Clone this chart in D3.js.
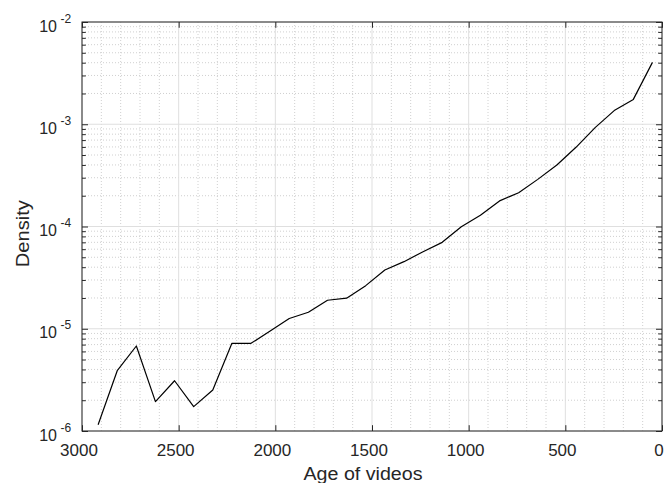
<!DOCTYPE html>
<html>
<head>
<meta charset="utf-8">
<script src="https://cdn.jsdelivr.net/npm/d3@7"></script>
<style>
  body { margin: 0; background: #fff; }
  svg { display: block; font-family: "Liberation Sans", Arial, Helvetica, sans-serif; }
</style>
</head>
<body>
<div id="chartArea"><svg id="chart"></svg></div>
<script>
const ages = [2916.7, 2817.8, 2718.9, 2620.1, 2521.2, 2422.3, 2323.5, 2224.6, 2125.7, 2026.8,
  1928.0, 1829.1, 1730.2, 1631.4, 1532.5, 1433.6, 1334.7, 1235.9, 1137.0, 1038.1,
  939.3, 840.4, 741.5, 642.6, 543.8, 444.9, 346.0, 247.2, 148.3, 49.4];
const density = [1.15e-6, 3.89e-6, 6.78e-6, 1.94e-6, 3.10e-6, 1.73e-6, 2.52e-6, 7.2e-6, 7.2e-6, 9.5e-6,
  1.26e-5, 1.45e-5, 1.90e-5, 1.99e-5, 2.64e-5, 3.76e-5, 4.53e-5, 5.67e-5, 7.0e-5, 9.95e-5,
  1.29e-4, 1.78e-4, 2.14e-4, 2.89e-4, 3.99e-4, 5.95e-4, 9.27e-4, 1.36e-3, 1.75e-3, 4.03e-3];
const xTicks = [3000, 2500, 2000, 1500, 1000, 500, 0];
const yTickExps = [-6, -5, -4, -3, -2];
const xLabel = 'Age of videos';
const yLabel = 'Density';

const width = 664, height = 483;
const margin = { top: 22, left: 82, bottom: 52, right: 2 };
const axisColor = '#262626';

const svg = d3.select('#chart').attr('width', width).attr('height', height);

const x = d3.scaleLinear().domain([3000, 0]).range([margin.left, width - margin.right]);
const y = d3.scaleLog().domain([1e-6, 1e-2]).range([height - margin.bottom, margin.top]);

const x0 = x.range()[0], x1 = x.range()[1];
const y0 = y.range()[0], y1 = y.range()[1];

// grid: minor dotted first, then major solid
const minorX = d3.range(0, 3001, 100).filter(v => v % 500 !== 0);
const majorY = yTickExps.map(e => Math.pow(10, e));
const minorY = yTickExps.slice(0, -1).flatMap(e => d3.range(2, 10).map(k => k * Math.pow(10, e)));

const grid = svg.append('g').attr('class', 'grid');
grid.selectAll('line.mx').data(minorX).enter().append('line')
  .attr('x1', d => x(d)).attr('x2', d => x(d)).attr('y1', y0).attr('y2', y1)
  .attr('stroke', '#c4c4c4').attr('stroke-width', 0.8).attr('stroke-dasharray', '1,2');
grid.selectAll('line.my').data(minorY).enter().append('line')
  .attr('x1', x0).attr('x2', x1).attr('y1', d => y(d)).attr('y2', d => y(d))
  .attr('stroke', '#c4c4c4').attr('stroke-width', 0.8).attr('stroke-dasharray', '1,2');
grid.selectAll('line.Mx').data(xTicks).enter().append('line')
  .attr('x1', d => x(d)).attr('x2', d => x(d)).attr('y1', y0).attr('y2', y1)
  .attr('stroke', '#dfdfdf').attr('stroke-width', 1);
grid.selectAll('line.My').data(majorY).enter().append('line')
  .attr('x1', x0).attr('x2', x1).attr('y1', d => y(d)).attr('y2', d => y(d))
  .attr('stroke', '#dfdfdf').attr('stroke-width', 1);

// data line
const line = d3.line().x(d => x(d[0])).y(d => y(d[1]));
svg.append('path')
  .datum(d3.zip(ages, density))
  .attr('fill', 'none')
  .attr('stroke', '#000')
  .attr('stroke-width', 1.2)
  .attr('stroke-linejoin', 'round')
  .attr('d', line);

// axes (inward ticks)
const addAxis = (axis, tx, ty) => {
  const g = svg.append('g').attr('transform', `translate(${tx},${ty})`).call(axis);
  g.select('.domain').remove();
  g.selectAll('.tick line').attr('stroke', axisColor);
  return g;
};

const bottom = addAxis(d3.axisBottom(x).tickValues(xTicks).tickSizeInner(-5.8).tickSizeOuter(0)
  .tickPadding(12.7).tickFormat(d3.format('d')), 0, y0);
bottom.selectAll('.tick text').attr('fill', axisColor).attr('font-size', 17)
  .attr('font-family', '"Liberation Sans", Arial, sans-serif').attr('dx', -3.5);

addAxis(d3.axisTop(x).tickValues(xTicks).tickSizeInner(-5.8).tickSizeOuter(0).tickFormat(''), 0, y1);
addAxis(d3.axisLeft(y).tickValues(majorY).tickSizeInner(-6).tickSizeOuter(0).tickFormat(''), x0, 0);
addAxis(d3.axisLeft(y).tickValues(minorY).tickSizeInner(-3.8).tickSizeOuter(0).tickFormat(''), x0, 0);
addAxis(d3.axisRight(y).tickValues(majorY).tickSizeInner(-6).tickSizeOuter(0).tickFormat(''), x1, 0);
addAxis(d3.axisRight(y).tickValues(minorY).tickSizeInner(-3.8).tickSizeOuter(0).tickFormat(''), x1, 0);

// y tick labels as 10^e
const yLabels = svg.append('g').attr('fill', axisColor);
yLabels.selectAll('text.base').data(yTickExps).enter().append('text')
  .attr('x', 57).attr('y', d => y(Math.pow(10, d)) + 9.5)
  .attr('text-anchor', 'end').attr('font-size', 16)
  .text('10');
yLabels.selectAll('text.exp').data(yTickExps).enter().append('text')
  .attr('x', 60.5).attr('y', d => y(Math.pow(10, d)) + 0.5)
  .attr('font-size', 12)
  .text(d => String(d));

// box
svg.append('rect')
  .attr('x', x0).attr('y', y1)
  .attr('width', x1 - x0).attr('height', y0 - y1)
  .attr('fill', 'none').attr('stroke', axisColor).attr('stroke-width', 1);

// axis labels
svg.append('text')
  .attr('x', 363).attr('y', 480)
  .attr('text-anchor', 'middle').attr('font-size', 18)
  .attr('textLength', 119).attr('lengthAdjust', 'spacingAndGlyphs')
  .attr('fill', axisColor)
  .text(xLabel);

svg.append('text')
  .attr('transform', 'translate(29,233.7) rotate(-90)')
  .attr('text-anchor', 'middle').attr('font-size', 18)
  .attr('textLength', 67).attr('lengthAdjust', 'spacingAndGlyphs')
  .attr('fill', axisColor)
  .text(yLabel);
</script>
</body>
</html>
